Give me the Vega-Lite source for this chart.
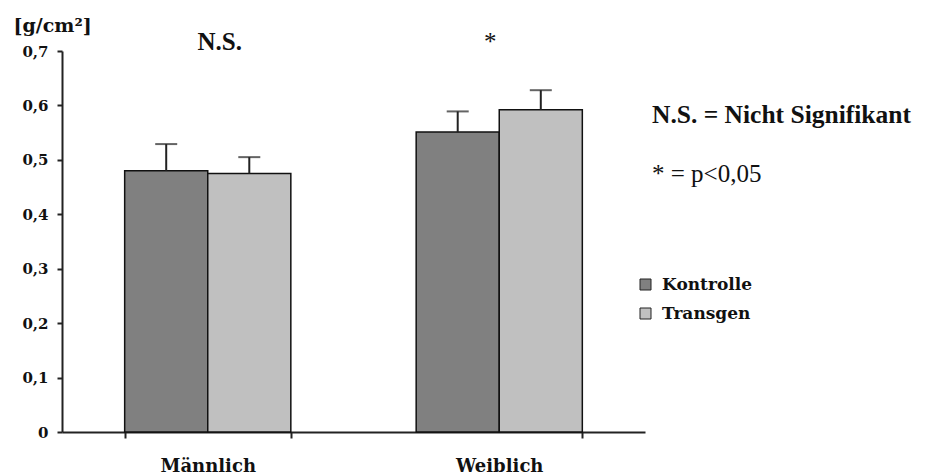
{
  "$schema": "https://vega.github.io/schema/vega-lite/v6.json",
  "width": 583,
  "height": 381,
  "autosize": {"type": "none"},
  "padding": {"left": 62, "top": 51, "right": 280, "bottom": 44},
  "background": "white",
  "config": {"view": {"stroke": null}},
  "datasets": {
    "bars": [
      {"sex": "Männlich", "group": "Kontrolle", "value": 0.48, "upper": 0.529},
      {"sex": "Männlich", "group": "Transgen", "value": 0.475, "upper": 0.505},
      {"sex": "Weiblich", "group": "Kontrolle", "value": 0.551, "upper": 0.589},
      {"sex": "Weiblich", "group": "Transgen", "value": 0.592, "upper": 0.628}
    ],
    "sig": [
      {"sex": "Männlich", "label": "N.S.", "pos": 0.702},
      {"sex": "Weiblich", "label": "*", "pos": 0.702}
    ],
    "notes": [
      {"note": "N.S. = Nicht Signifikant", "px": 1.012, "pos": 0.568, "kind": "bold"},
      {"note": "* = p<0,05", "px": 1.012, "pos": 0.46, "kind": "normal"}
    ]
  },
  "resolve": {"scale": {"x": "independent"}},
  "layer": [
    {
      "data": {"name": "bars"},
      "layer": [
        {
          "mark": {"type": "bar", "stroke": "#111", "strokeWidth": 1.5},
          "encoding": {
            "x": {
              "field": "sex", "type": "nominal", "sort": ["Männlich", "Weiblich"],
              "scale": {"paddingInner": 0.43, "paddingOuter": 0.215},
              "axis": {
                "title": null, "labelAngle": 0, "tickBand": "extent",
                "domainColor": "#222", "domainWidth": 2, "tickColor": "#222", "tickWidth": 2, "tickSize": 6,
                "labelFont": "DejaVu Serif", "labelFontWeight": "bold", "labelFontSize": 18, "labelColor": "#111",
                "labelPadding": 19, "labelBaseline": "top"
              }
            },
            "xOffset": {"field": "group", "type": "nominal", "scale": {"paddingInner": 0, "paddingOuter": 0}},
            "y": {
              "field": "value", "type": "quantitative",
              "scale": {"domain": [0, 0.7], "nice": false},
              "axis": {
                "title": "[g/cm²]", "titleAngle": 0, "titleAlign": "left", "titleBaseline": "alphabetic",
                "titleX": -49, "titleY": -20, "titleFont": "DejaVu Serif", "titleFontWeight": "bold", "titleFontSize": 19, "titleColor": "#111",
                "values": [0, 0.1, 0.2, 0.3, 0.4, 0.5, 0.6, 0.7],
                "labelExpr": "datum.value == 0 ? '0' : replace(format(datum.value, '.1f'), '.', ',')",
                "grid": false, "domainColor": "#222", "domainWidth": 2, "tickColor": "#222", "tickWidth": 2, "tickSize": 5,
                "labelFont": "DejaVu Serif", "labelFontWeight": "bold", "labelFontSize": 15, "labelColor": "#111", "labelPadding": 9
              }
            },
            "fill": {
              "field": "group", "type": "nominal",
              "scale": {"domain": ["Kontrolle", "Transgen"], "range": ["#808080", "#c0c0c0"]},
              "legend": {
                "title": null, "orient": "none", "legendX": 575, "legendY": 225,
                "symbolType": "square", "symbolSize": 121, "symbolStrokeColor": "#222", "symbolStrokeWidth": 1,
                "labelFont": "DejaVu Serif", "labelFontWeight": "bold", "labelFontSize": 17, "labelColor": "#111",
                "rowPadding": 11, "labelOffset": 8
              }
            }
          }
        },
        {
          "mark": {"type": "rule", "color": "#222", "strokeWidth": 2},
          "encoding": {
            "x": {"field": "sex", "type": "nominal", "sort": ["Männlich", "Weiblich"]},
            "xOffset": {"field": "group", "type": "nominal"},
            "y": {"field": "value", "type": "quantitative"},
            "y2": {"field": "upper"}
          }
        },
        {
          "mark": {"type": "tick", "color": "#222", "thickness": 2, "size": 22, "orient": "horizontal"},
          "encoding": {
            "x": {"field": "sex", "type": "nominal", "sort": ["Männlich", "Weiblich"]},
            "xOffset": {"field": "group", "type": "nominal"},
            "y": {"field": "upper", "type": "quantitative"}
          }
        }
      ]
    },
    {
      "data": {"name": "sig"},
      "transform": [{"filter": "datum.label == 'N.S.'"}],
      "mark": {"type": "text", "font": "Liberation Serif", "fontWeight": "bold", "fontSize": 25, "color": "#111", "baseline": "alphabetic", "dx": 12},
      "encoding": {
        "x": {"field": "sex", "type": "nominal", "sort": ["Männlich", "Weiblich"], "scale": {"domain": ["Männlich", "Weiblich"], "paddingInner": 0.43, "paddingOuter": 0.215}, "axis": null},
        "y": {"field": "pos", "type": "quantitative"},
        "text": {"field": "label"}
      }
    },
    {
      "data": {"name": "sig"},
      "transform": [{"filter": "datum.label == '*'"}],
      "mark": {"type": "text", "font": "Liberation Serif", "fontSize": 25, "color": "#111", "baseline": "alphabetic", "dx": -9},
      "encoding": {
        "x": {"field": "sex", "type": "nominal", "sort": ["Männlich", "Weiblich"], "scale": {"domain": ["Männlich", "Weiblich"], "paddingInner": 0.43, "paddingOuter": 0.215}, "axis": null},
        "y": {"field": "pos", "type": "quantitative"},
        "text": {"field": "label"}
      }
    },
    {
      "data": {"name": "notes"},
      "transform": [{"filter": "datum.kind == 'bold'"}],
      "mark": {"type": "text", "font": "Liberation Serif", "fontWeight": "bold", "fontSize": 25.5, "color": "#111", "align": "left", "baseline": "alphabetic"},
      "encoding": {
        "x": {"field": "px", "type": "quantitative", "scale": {"domain": [0, 1], "nice": false, "zero": false}, "axis": null},
        "y": {"field": "pos", "type": "quantitative"},
        "text": {"field": "note"}
      }
    },
    {
      "data": {"name": "notes"},
      "transform": [{"filter": "datum.kind == 'normal'"}],
      "mark": {"type": "text", "font": "Liberation Serif", "fontSize": 25, "color": "#111", "align": "left", "baseline": "alphabetic"},
      "encoding": {
        "x": {"field": "px", "type": "quantitative", "scale": {"domain": [0, 1], "nice": false, "zero": false}, "axis": null},
        "y": {"field": "pos", "type": "quantitative"},
        "text": {"field": "note"}
      }
    }
  ]
}
